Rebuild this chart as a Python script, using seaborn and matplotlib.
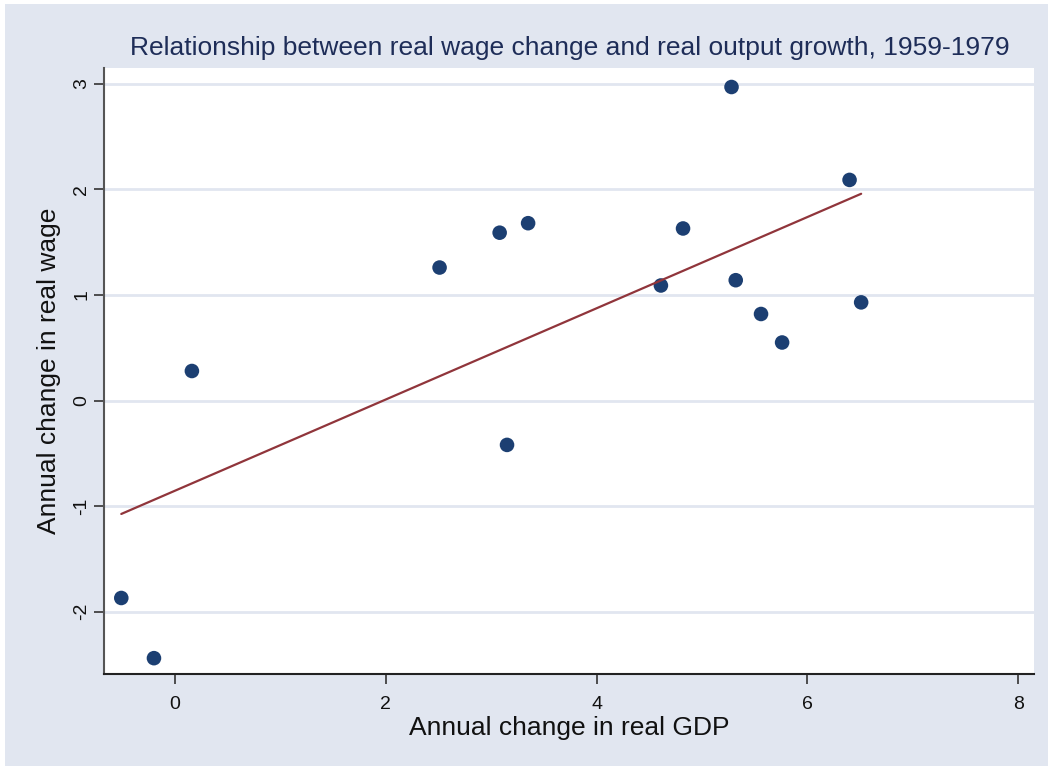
import matplotlib
matplotlib.use("Agg")
import matplotlib.pyplot as plt
import seaborn as sns
import pandas as pd
from matplotlib.patches import Rectangle

gdp_change = [-0.51, -0.20, 0.16, 2.51, 3.08, 3.15, 3.35, 4.61, 4.82, 5.28, 5.32, 5.56, 5.76, 6.40, 6.51]
wage_change = [-1.87, -2.44, 0.28, 1.26, 1.59, -0.42, 1.68, 1.09, 1.63, 2.97, 1.14, 0.82, 0.55, 2.09, 0.93]
x_ticks = [0, 2, 4, 6, 8]
y_ticks = [-2, -1, 0, 1, 2, 3]

df = pd.DataFrame({"gdp": gdp_change, "wage": wage_change})

sns.set_style("white")
plt.rcParams['font.family'] = ['Liberation Sans', 'DejaVu Sans']

W, H = 1052, 770
fig = plt.figure(figsize=(W / 100, H / 100), dpi=100)
fig.patch.set_facecolor("white")
bg = "#E1E6F0"
fig.patches.append(Rectangle((5 / W, 1 - 766 / H), 1043 / W, 762 / H, transform=fig.transFigure,
                             facecolor=bg, edgecolor="none", zorder=-10))

ax = fig.add_axes([104 / W, 1 - 674 / H, (1034 - 104) / W, (674 - 68) / H])
ax.set_facecolor("white")

navy = "#1C3F72"
maroon = "#90353B"

sns.regplot(data=df, x="gdp", y="wage", ci=None, ax=ax,
            scatter_kws=dict(s=110, color=navy, edgecolor="none", alpha=1, zorder=3),
            line_kws=dict(color=maroon, lw=1.6, zorder=4))

ax.set_xlim(-0.674, 8.15)
ax.set_ylim(-2.59, 3.15)
ax.set_xticks(x_ticks)
ax.set_yticks(y_ticks)
ax.set_xticklabels([str(t) for t in x_ticks])
ax.set_yticklabels([str(t) for t in y_ticks], rotation=90, va="center")

ax.yaxis.grid(True, color=bg, lw=2)
ax.xaxis.grid(False)
ax.set_axisbelow(True)

for s in ["top", "right"]:
    ax.spines[s].set_visible(False)
for s in ["left", "bottom"]:
    ax.spines[s].set_color("#555555")
    ax.spines[s].set_linewidth(1.5)
ax.spines["bottom"].set_color("#222222")

ax.tick_params(axis="both", direction="out", length=7, width=1.2, color="#333333",
               labelsize=14, labelcolor="#111111", left=True, bottom=True)
ax.tick_params(axis="x", pad=9)
ax.tick_params(axis="y", pad=3)

ax.set_xlabel("Annual change in real GDP", fontsize=19, color="#111111", labelpad=2)
ax.set_ylabel("Annual change in real wage", fontsize=19, color="#111111", labelpad=9)
fig.text(569.5 / W, 1 - 48 / H,
         "Relationship between real wage change and real output growth, 1959-1979",
         ha="center", va="center", fontsize=19, color="#1E2D58")

fig.savefig("out.png", dpi=100, facecolor=fig.get_facecolor())
